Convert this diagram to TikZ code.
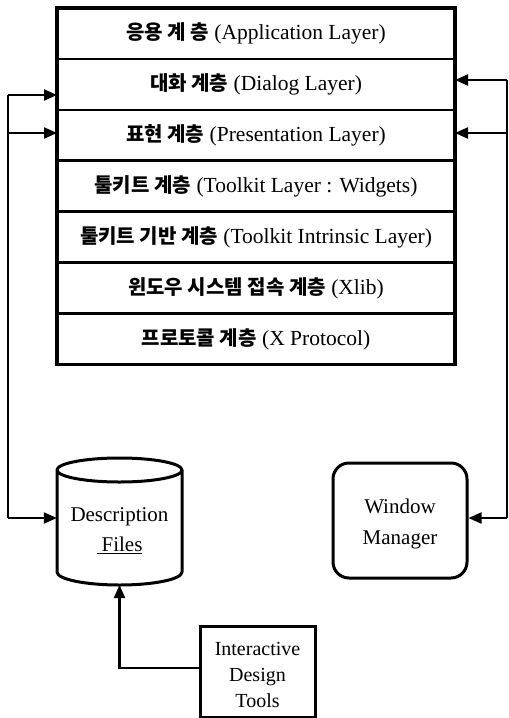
\documentclass[tikz,border=0pt]{standalone}
\usepackage{fontspec}
\setmainfont{Liberation Serif}
\newfontfamily\kr{Noto Sans CJK KR}
\usetikzlibrary{arrows.meta}
\tikzset{
  layer/.style={draw, line width=2.6pt, minimum width=398pt, minimum height=50.9pt,
    inner sep=0pt, outer sep=0pt, anchor=north, font=\fontsize{21.5}{25}\selectfont},
  conn/.style={line width=2.1pt, -{Triangle[length=13pt,width=11pt]}},
  plain/.style={line width=2.1pt},
  label/.style={font=\fontsize{21}{25}\selectfont, align=center, inner sep=0pt},
  box/.style={draw, line width=3pt, inner sep=0pt}
}
\newcommand{\ko}[1]{{\kr\bfseries\fontsize{20}{24}\selectfont #1}}
\begin{document}
\begin{tikzpicture}[x=1pt,y=-1pt]
\useasboundingbox (0,0) rectangle (509,718);

% protocol stack
\node[layer] (L1) at (256,8)        {\ko{응용 계 층} (Application Layer)};
\node[layer] (L2) at (L1.south)     {\ko{대화 계층} (Dialog Layer)};
\node[layer] (L3) at (L2.south)     {\ko{표현 계층} (Presentation Layer)};
\node[layer] (L4) at (L3.south)     {\ko{툴키트 계층} (Toolkit Layer : Widgets)};
\node[layer] (L5) at (L4.south)     {\ko{툴키트 기반 계층} (Toolkit Intrinsic Layer)};
\node[layer] (L6) at (L5.south)     {\ko{윈도우 시스템 접속 계층} (Xlib)};
\node[layer] (L7) at (L6.south)     {\ko{프로토콜 계층} (X Protocol)};
\draw[line width=3.2pt] (L1.north west) rectangle (L7.south east);

% description files (cylinder)
\node[minimum width=125pt, minimum height=127pt, inner sep=0pt] (desc) at (119.5,521.5) {};
\draw[line width=3pt, line join=round]
  (57,470) -- (57,572) arc[start angle=180, end angle=360, x radius=62.5pt, y radius=13pt]
  -- (182,470)
  (119.5,470) ellipse[x radius=62.5pt, y radius=12pt];
\node[label] (desctext) at (119.5,531)
  {Description\\[5pt]\underline{\kern5pt Files}};

% window manager
\node[box, rounded corners=16pt, minimum width=134pt, minimum height=115pt] (wm) at (400,520.5) {};
\node[label] (wmtext) at (400,523.5) {Window\\[6pt]Manager};

% interactive design tools
\node[box, minimum width=115pt, minimum height=91pt] (idt) at (257.5,671.5) {};
\node[label, font=\fontsize{20}{26}\selectfont] (idttext) at (257.5,674.5)
  {Interactive\\Design\\Tools};

% left feedback bus
\coordinate (lA) at (8,95);
\coordinate (lB) at (8,133);
\coordinate (lC) at (8,518);
\draw[plain] (lA) -- (lC);
\draw[conn] (lA) -- (lA -| L2.west);
\draw[conn] (lB) -- (lB -| L3.west);
\draw[conn] (lC) -- (lC -| desc.west);

% right feedback bus
\coordinate (rA) at (507,80);
\coordinate (rB) at (507,133);
\coordinate (rC) at (507,518);
\draw[plain] (rA) -- (rC);
\draw[conn] (rA) -- (rA -| L2.east);
\draw[conn] (rB) -- (rB -| L3.east);
\draw[conn] (rC) -- (rC -| wm.east);

% design tools feed the description files
\coordinate (cylbot) at (119.5,585);
\coordinate (idtin) at (idt.west |- 0,668);
\draw[conn] (idtin) -| (cylbot);
\end{tikzpicture}
\end{document}
